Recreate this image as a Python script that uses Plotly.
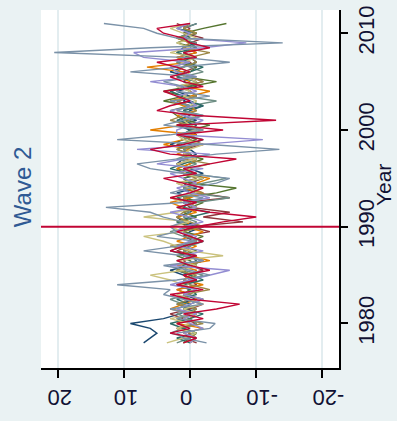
import plotly.graph_objects as go

# half-year time points 1978.0 ... 2011.0
years = [1978 + 0.5 * i for i in range(67)]

navy = [7, 6, 5, 6, 9, 4, 1.5, 0, 2, -1,
        1, 0, 2, -1, 1, 3, 0, -2, 1, 0,
        2, -1, 1, 0, -2, 1, 2, 0, -1, 1,
        0, 2, -1, 0, 1, -2, 0, 2, 1, -1,
        0, 3, 1, -1, 0, 2, -1, 1, 0, -2,
        1, 0, 2, -1, 1, 0, 3, 1, -1, 0,
        2, 1, -1, 2, 0, 1, -1]
maroon = [-1, 1, 0, 2, -1, 1, 3, 0, -2, 1,
          0, 2, -1, 0, 1, -2, 0, 1, -1, 2,
          0, -1, 1, -3, 0, -8, -2, -6, 0, 1,
          -6, -1, 1, 0, -2, 1, 0, 2, -1, 0,
          1, -2, 0, 1, -1, 2, 0, -1, 1, 0,
          2, -1, 0, 1, -2, 0, 1, -1, 0, 2,
          -1, 1, 0, -2, 1, 0, 2]
forest = [1, 0, -1, 1, 0, 2, -1, 1, 0, -2,
          1, 0, 2, -1, 0, 1, -1, 0, 2, -1,
          1, 0, -2, 1, 0, 2, -1, 1, 0, -2,
          1, -4, -7, 0, 1, -1, 2, 0, -2, 1,
          0, 2, -1, 1, 0, -3, 1, 2, 3, 0,
          4, 1, 4, 0, -4, 1, 0, -1, 2, 0,
          1, -1, 2, 0, 1, -2, -5.5]
dkorange = [0, -1, 1, -2, 2, 0, -1, 3, 1, -1,
            0, 2, -2, 1, 0, -1, 2, -3, 0, 1,
            -1, 2, 0, -2, 1, 0, 2, -1, 1, 3,
            0, -2, 1, -1, -3, 1, 2, 0, -1, 2,
            0, 4, 1, -1, 6, 1, 0, 2, -1, 1,
            3, 0, -3, 1, 0, 2, 1, 6.5, 0, 2,
            -1, 1, 0, 2, -1, 1, 0]
teal = [2, 0, 3, 1, -1, 0, 2, -1, 1, 3,
        0, -1, 1, 0, -2, 1, 0, 2, -1, 1,
        0, -2, 1, 3, 0, -1, 1, 0, 2, -1,
        -6, 0, 1, -2, -5.5, 0, 1, -1, 2, 0,
        1, -1, 0, 2, -1, 1, 0, -2, 1, 0,
        -4, 1, 0, 2, -1, 1, -2, 0, 2, -1,
        1, 0, -1, 2, 0, 1, -1]
cranberry = [1, -1, 3, 0, 2, -2, 1, -4, -7.5, 0,
             3, -2, 2, -1, 1, -3, 0, 2, -1, 3,
             1, -2, 0, 2, -1, -5, -10, -3, 2, -1,
             3, 0, -2, 1, 4, -1, 1, -3, -7, 3,
             6, 1, -2, 2, -5, 2, -13, -1, 5, 3,
             0, 2, 4, -2, 1, 3, 0, 2, 5, -1,
             1, -3, 0, 1, 4, 5, 0]
lavender = [0, -1, 1, -2, 0, 1, -1, 2, 0, -2,
            1, -1, 3, 0, -3, -6, 3, -2, 1, -2,
            2, 0, -1, 2, 1, -2, 0, 3, -1, 1,
            -3, 0, 2, -1, 1, 3, -2, 5, 1, -3,
            8, -2, -11, 2, 2, 0, -2, 1, 3, -1,
            0, 2, -1, 1, 6, -1, 2, 3, 0, 7,
            8.5, -2, -8.5, 1, 0, 2, 0]
khaki = [3.5, 1, -1, 2, 0, 3, -1, 1, -2, 0,
         2, -1, 1, 3, 6, 1, -1, 2, -5, 0,
         2, 4, 7, 1, 3, 0, 7, 2, -1, 1,
         3, -1, 0, 2, -2, 1, 0, 2, -1, 1,
         0, -2, 1, 2, -1, 0, 1, -1, 2, 0,
         -1, 1, 0, 2, -1, 1, 0, 2, 1, -1,
         3, 0, 2, -1, 1, 3, 0]
emidblue = [-2.5, 1, 2, -3, -3.8, 2, 0, 3, -2, 1,
            4, 3, 11, 2, -3, 0, 4, -2, 1, 7,
            2, -1, 5, 2, 3, 1, 4, 6, 12.7, 1,
            -2, 3, 0, -4, -6, 1, 6, 8, 2, -4,
            -13.5, -3, 11, 3, -2, 4, 1, -2, 2, 0,
            3, -3, 2, 1, 4, -1, 9, 2, -6, 1,
            20.5, 6, -14, 2, 5, 7, 13]
emerald = [0, 2, -1, 1, 3, 0, -2, 1, 0, 2,
           -1, 0, 1, -2, 0, 2, 1, -1, 0, 3,
           1, -2, 0, 1, -1, 2, 0, -3, 1, 0,
           2, -1, 0, 1, -2, 0, 3, 1, -1, 0,
           2, 0, -2, 1, 0, -1, 2, 0, 1, -2,
           0, 1, 3, 0, -1, 2, 0, -2, 1, 0,
           2, -1, 0, 1, -1, 2, 0]
brown = [1, -1, 0, 2, -2, 1, 0, -1, 2, 0,
         1, -3, 0, 1, -1, 2, 0, -2, 1, 0,
         3, -1, 0, 1, -2, 0, 2, 1, -1, 0,
         1, -2, 0, 2, -1, 1, 0, -3, 1, 0,
         2, -1, 0, 1, -2, 0, 3, 1, -1, 0,
         2, -1, 0, 1, -2, 0, 2, 1, -1, 0,
         -3, 1, 0, 2, -1, 1, 0]

series = [
    ("navy", navy, "#1a476f"),
    ("maroon", maroon, "#90353b"),
    ("forest_green", forest, "#55752f"),
    ("dkorange", dkorange, "#e37e00"),
    ("teal", teal, "#6e8e84"),
    ("emerald", emerald, "#2d6d66"),
    ("brown", brown, "#9c8847"),
    ("khaki", khaki, "#cac27e"),
    ("lavender", lavender, "#938dd2"),
    ("emidblue", emidblue, "#7b92a8"),
    ("cranberry", cranberry, "#c10534"),
]

x_ticks = [20, 10, 0, -10, -20]
y_ticks = [1980, 1990, 2000, 2010]
wave_year = 1990

fig = go.Figure()
for name, vals, col in series:
    fig.add_trace(go.Scatter(x=vals, y=years[:len(vals)], mode="lines", name=name,
                             line=dict(color=col, width=1.4), showlegend=False))

fig.add_shape(type="line", xref="paper", x0=0, x1=1, yref="y", y0=wave_year, y1=wave_year,
              line=dict(color="#c10534", width=2))

fig.update_layout(
    width=397, height=421,
    margin=dict(l=41, r=58, t=6, b=53),
    paper_bgcolor="#eaf2f3",
    plot_bgcolor="white",
    font=dict(family="Liberation Sans, Arial, sans-serif", size=22, color="#111133"),
    xaxis=dict(range=[22.5, -22.5], tickvals=x_ticks, ticktext=[str(t) for t in x_ticks],
               tickangle=180, ticks="outside", ticklen=8, tickwidth=1.5, tickcolor="black",
               showline=True, linecolor="black", linewidth=1.5, ticklabelstandoff=8,
               ticklabelshift=10,
               showgrid=True, gridcolor="#e3edf0", gridwidth=1.5, zeroline=False,
               tickfont=dict(size=22, color="#111133")),
    yaxis=dict(range=[1975.4, 2012.4], side="right", tickvals=y_ticks,
               tickangle=-90, ticks="outside", ticklen=7, tickwidth=1.5, tickcolor="black",
               showline=True, linecolor="black", linewidth=1.5,
               showgrid=False, zeroline=False,
               tickfont=dict(size=22, color="#111133")),
    annotations=[
        dict(text="Wave 2", xref="paper", yref="paper", x=-0.064, y=0.505,
             showarrow=False, textangle=-90, font=dict(size=24, color="#2f5a94"),
             xanchor="center", yanchor="middle"),
        dict(text="Year", xref="paper", yref="paper", x=1.15, y=0.51,
             showarrow=False, textangle=-90, font=dict(size=21, color="#111133"),
             xanchor="center", yanchor="middle"),
    ],
)

fig.write_html("out.html")
